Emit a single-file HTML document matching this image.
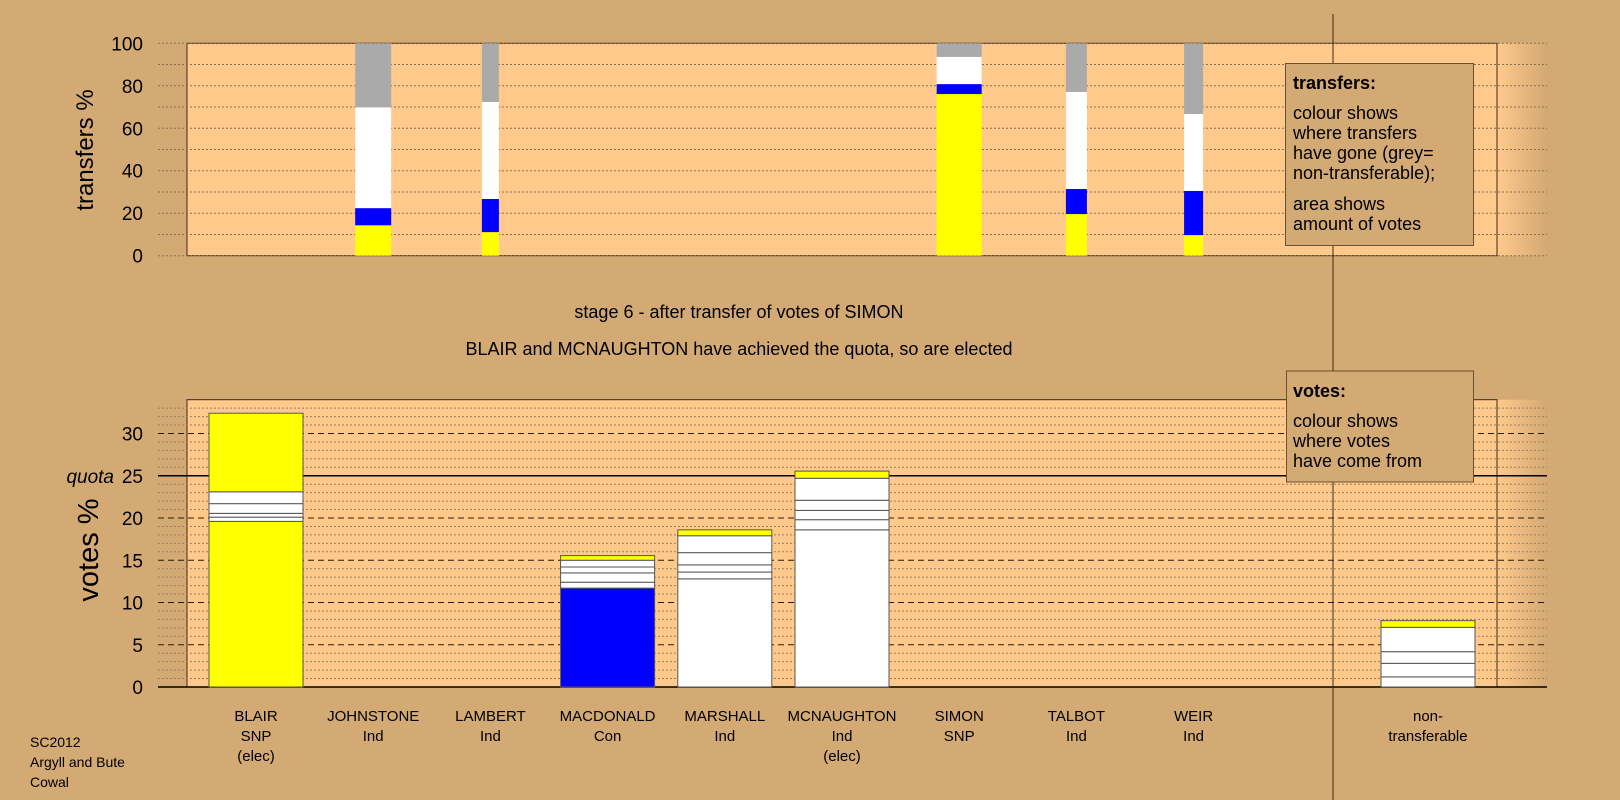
<!DOCTYPE html>
<html><head><meta charset="utf-8"><style>
body{margin:0;background:#d3a974;}
svg{display:block;font-family:"Liberation Sans",sans-serif;}
</style></head><body>
<svg id="c" width="1620" height="800" viewBox="0 0 1620 800">
<defs>
<linearGradient id="sh" x1="0" x2="1" y1="0" y2="0"><stop offset="0" stop-color="#ffc98b"/><stop offset="1" stop-color="#d3a974"/></linearGradient>
</defs>
<rect x="0" y="0" width="1620" height="800" fill="#d3a974"/>
<g id="topg"></g>
<g id="botg"></g>
<line x1="1333" y1="14" x2="1333" y2="800" stroke="#3a2a18" stroke-width="1"/>
<g>
<rect x="1285.5" y="63.5" width="188" height="182" fill="#d3a974" stroke="#6b5030"/>
<text x="1293" y="89" font-size="18" font-weight="bold">transfers:</text>
<text x="1293" y="119" font-size="18">colour shows</text>
<text x="1293" y="139" font-size="18">where transfers</text>
<text x="1293" y="159" font-size="18">have gone (grey=</text>
<text x="1293" y="179" font-size="18">non-transferable);</text>
<text x="1293" y="210" font-size="18">area shows</text>
<text x="1293" y="230" font-size="18">amount of votes</text>
</g>
<g>
<rect x="1286.5" y="371" width="187" height="111" fill="#d3a974" stroke="#6b5030"/>
<text x="1293" y="397" font-size="18" font-weight="bold">votes:</text>
<text x="1293" y="427" font-size="18">colour shows</text>
<text x="1293" y="447" font-size="18">where votes</text>
<text x="1293" y="467" font-size="18">have come from</text>
</g>
<text x="739" y="318" font-size="18" text-anchor="middle">stage 6 - after transfer of votes of SIMON</text>
<text x="739" y="355" font-size="18" text-anchor="middle">BLAIR and MCNAUGHTON have achieved the quota, so are elected</text>
<g font-size="14">
<text x="30" y="747">SC2012</text>
<text x="30" y="767">Argyll and Bute</text>
<text x="30" y="787">Cowal</text>
</g>
</svg>
<script>
const categories = ["BLAIR","JOHNSTONE","LAMBERT","MACDONALD","MARSHALL","MCNAUGHTON","SIMON","TALBOT","WEIR","","non-"];
const parties = ["SNP","Ind","Ind","Con","Ind","Ind","SNP","Ind","Ind","","transferable"];
const notes = ["(elec)","","","","","(elec)","","","","",""];
const transferTicks = [0,20,40,60,80,100];
const voteTicks = [0,5,10,15,20,25,30];
const quota = 25;
const transferIndex = [1,2,6,7,8];
const transferWidths = [36,17,45,21,19];
const transferTops = [[14.3,22.4,69.9,100],[11.1,26.7,72.4,100],[76.1,80.8,93.6,100],[19.6,31.4,77.1,100],[9.7,30.5,66.7,100]];
const transferColours = ["#ffff00","#0000ff","#ffffff","#aaaaaa"];
const voteIndex = [0,3,4,5,10];
const voteTops = [[19.6,20.1,20.55,21.7,23.1,32.4],[11.7,12.4,13.5,14.2,15.0,15.55],[12.8,13.6,14.45,15.9,17.9,18.6],[18.6,19.8,20.9,22.1,24.7,25.55],[1.2,2.8,4.18,7.06,7.85]];
const voteColours = [["#ffff00","#fff","#fff","#fff","#fff","#ffff00"],["#0000ff","#fff","#fff","#fff","#fff","#ffff00"],["#fff","#fff","#fff","#fff","#fff","#ffff00"],["#fff","#fff","#fff","#fff","#fff","#ffff00"],["#fff","#fff","#fff","#fff","#ffff00"]];

const NS="http://www.w3.org/2000/svg";
function mk(p,t,a){const e=document.createElementNS(NS,t);for(const k in a)e.setAttribute(k,a[k]);p.appendChild(e);return e;}
const X0=256, DX=117.2;
function xC(i){return X0+DX*i;}
function yT(v){return 255.7-v*2.124;}
function yB(v){return 687-v*8.45;}
const topG=document.getElementById('topg'), botG=document.getElementById('botg');

let r=mk(topG,'rect',{x:1497,y:yT(100),width:50,height:yT(0)-yT(100),fill:'url(#sh)'});


r=mk(topG,'rect',{x:187,y:yT(100),width:1310,height:yT(0)-yT(100),fill:'#ffc98b',stroke:'#3a2a18'});


for(let v=0;v<=100;v+=10){const l=mk(topG,'line',{x1:158,x2:1547,y1:yT(v),y2:yT(v),stroke:'#8a7050','stroke-dasharray':'2,2','stroke-width':1});

}
transferTicks.forEach(v=>{const t=mk(topG,'text',{x:143,y:yT(v)+7,'font-size':19,'text-anchor':'end'});t.textContent=v;

});
let yl=mk(topG,'text',{x:93,y:150,'font-size':24,'text-anchor':'middle',transform:'rotate(-90 93 150)'});yl.textContent='transfers %';


transferIndex.forEach((ci,k)=>{let prev=0;const w=transferWidths[k];
transferTops[k].forEach((tp,j)=>{const b=mk(topG,'rect',{x:xC(ci)-w/2,y:yT(tp),width:w,height:yT(prev)-yT(tp),fill:transferColours[j]});

prev=tp;});});

r=mk(botG,'rect',{x:1497,y:yB(34),width:50,height:yB(0)-yB(34),fill:'url(#sh)'});


r=mk(botG,'rect',{x:187,y:yB(34),width:1310,height:yB(0)-yB(34),fill:'#ffc98b',stroke:'#3a2a18'});


for(let v=1;v<=33;v++){const dash=v%5===0;const l=mk(botG,'line',{x1:158,x2:1547,y1:yB(v),y2:yB(v),stroke:dash?'#2a1a08':'#9a8060','stroke-dasharray':dash?'6,4':'2,2','stroke-width':1});

}
let q=mk(botG,'line',{x1:158,x2:1547,y1:yB(quota),y2:yB(quota),stroke:'#000','stroke-width':1.5});


let ax=mk(botG,'line',{x1:158,x2:1547,y1:yB(0),y2:yB(0),stroke:'#000','stroke-width':1.5});


voteTicks.forEach(v=>{const t=mk(botG,'text',{x:143,y:yB(v)+7,'font-size':19,'text-anchor':'end'});t.textContent=v;

});
let ql=mk(botG,'text',{x:114,y:yB(quota)+7,'font-size':19,'text-anchor':'end','font-style':'italic'});ql.textContent='quota';


yl=mk(botG,'text',{x:98,y:550,'font-size':29,'text-anchor':'middle',transform:'rotate(-90 98 550)'});yl.textContent='votes %';


voteIndex.forEach((ci,k)=>{let prev=0;
voteTops[k].forEach((tp,j)=>{const b=mk(botG,'rect',{x:xC(ci)-47,y:yB(tp),width:94,height:yB(prev)-yB(tp),fill:voteColours[k][j],stroke:'#555','stroke-width':1});

prev=tp;});});
categories.forEach((c,i)=>{if(!c)return;[c,parties[i],notes[i]].forEach((s,j)=>{if(!s)return;
const t=mk(botG,'text',{x:xC(i),y:721+j*20,'font-size':15,'text-anchor':'middle'});t.textContent=s;

});});
</script>
</body></html>
